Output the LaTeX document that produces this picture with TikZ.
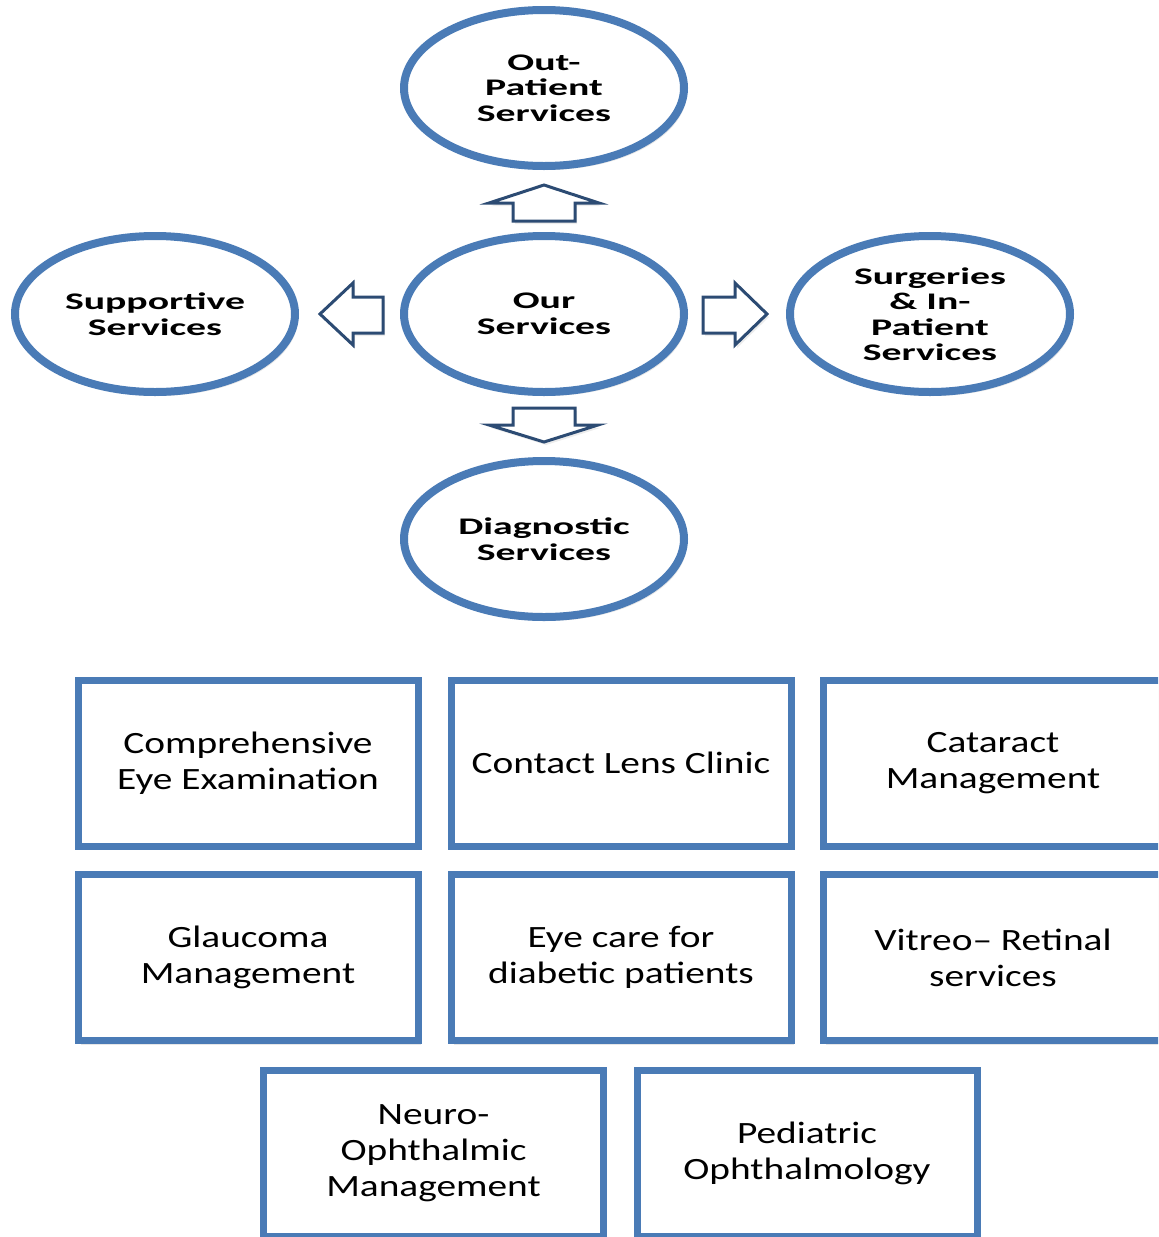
\documentclass[tikz,border=0pt]{standalone}
\usepackage{fontspec}
\usepackage{tikz}
\usetikzlibrary{shapes.geometric,shadows}

\definecolor{ringblue}{HTML}{4A7BB6}
\definecolor{arrowblue}{HTML}{2C4B73}
\newfontfamily\ringfont[FakeStretch=1.67]{Carlito}
\newfontfamily\cardfont[FakeStretch=1.27]{Carlito}

\begin{document}
\begin{tikzpicture}[x=0.5pt,y=-0.5pt,
  ring/.style={ellipse, draw=ringblue, line width=4pt, fill=white,
    minimum width=140pt, minimum height=78pt, inner sep=0pt, align=center,
    drop shadow={shadow xshift=1.5pt, shadow yshift=-2pt, opacity=0.2},
    font=\ringfont\bfseries\fontsize{11.9}{12.75}\selectfont},
  card/.style={rectangle, draw=ringblue, line width=3.5pt, fill=white,
    minimum width=170pt, minimum height=83pt, align=center,
    drop shadow={shadow xshift=1.5pt, shadow yshift=-2pt, opacity=0.2},
    font=\cardfont\fontsize{15.5}{18}\selectfont},
  hollow/.style={draw=arrowblue, line width=1.5pt, fill=white, line join=miter,
    drop shadow={shadow xshift=1pt, shadow yshift=-1.5pt, opacity=0.15}}]
  \clip (0,0) rectangle (1158,1237);

  \node[ring] (our) at (544,314) {Our\\Services};
  \node[ring] (op) at (544,88) {Out-\\Patient\\Services};
  \node[ring] (sup) at (155,314) {Supportive\\Services};
  \node[ring] (surg) at (930,314) {Surgeries\\\& In-\\Patient\\Services};
  \node[ring] (diag) at (544,539) {Diagnostic\\Services};

  % block arrows out of the centre
  \draw[hollow] (513,221) -- (513,203) -- (489,203) -- (544,185) -- (599,203)
    -- (575,203) -- (575,221) -- cycle;
  \draw[hollow] (383,297) -- (353,297) -- (353,283) -- (320,314) -- (353,345)
    -- (353,333) -- (383,333) -- cycle;
  \draw[hollow] (703,297) -- (735,297) -- (735,283) -- (767,314) -- (735,345)
    -- (735,333) -- (703,333) -- cycle;
  \draw[hollow] (513,408) -- (575,408) -- (575,425) -- (598,425) -- (544,442)
    -- (489,425) -- (513,425) -- cycle;

  \node[card] (exam) at (248,763) {Comprehensive\\Eye Examination};
  \node[card] (lens) at (621,763) {Contact Lens Clinic};
  \node[card] (cat) at (993,763) {Cataract\\Management};
  \node[card] (glau) at (248,957.5) {Glaucoma\\Management};
  \node[card] (diab) at (621,957.5) {Eye care for\\diabetic patients};
  \node[card] (vit) at (993,957.5) {Vitreo– Retinal\\services};
  \node[card] (neuro) at (433.5,1153) {Neuro-\\Ophthalmic\\Management};
  \node[card] (ped) at (807,1153) {Pediatric\\Ophthalmology};
\end{tikzpicture}
\end{document}
